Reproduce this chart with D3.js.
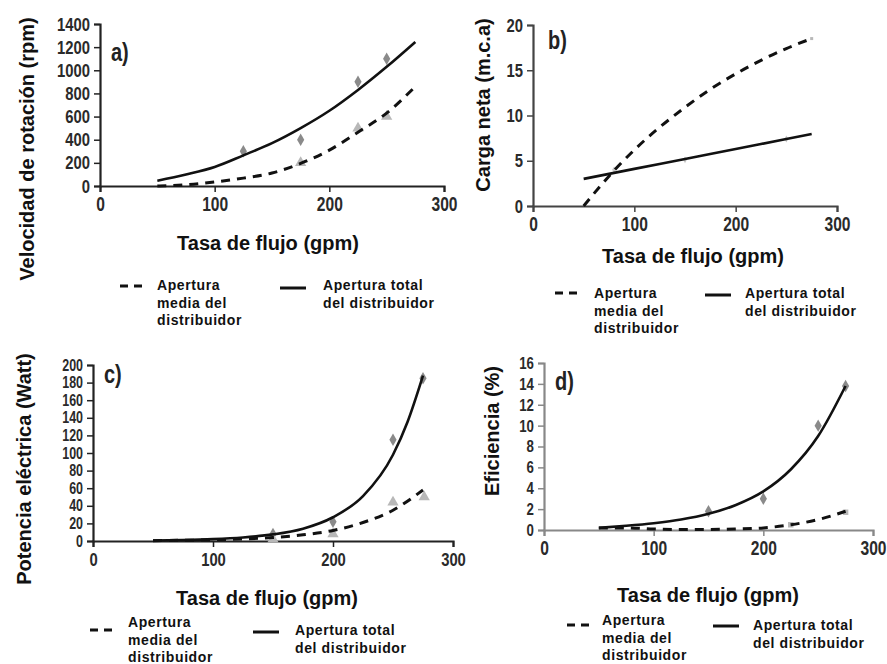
<!DOCTYPE html>
<html>
<head>
<meta charset="UTF-8">
<script src="https://cdn.jsdelivr.net/npm/d3@7"></script>
<style>
  body { margin: 0; background: #fff; }
  .tick text { font-family: "Liberation Sans", Arial, sans-serif; font-weight: bold; fill: #2a2a2a; }
  .ttl { font-family: "Liberation Sans", Arial, sans-serif; font-weight: bold; fill: #111; }
  .leg { font-family: "Liberation Sans", Arial, sans-serif; font-weight: bold; font-size: 14px; letter-spacing: 0.6px; fill: #111; }
  .plab { font-family: "Liberation Sans", Arial, sans-serif; font-weight: bold; font-size: 25px; fill: #222; }
</style>
</head>
<body>
<svg id="chart" width="887" height="664"></svg>
<script>
// ---- data (flow in gpm) ----
const flowTicks = [0, 100, 200, 300];

// a) rotation speed (rpm)
const rpmTicks = [0, 200, 400, 600, 800, 1000, 1200, 1400];
const rpmTotalPts = [[125, 300], [175, 400], [225, 900], [250, 1100]];
const rpmMediaPts = [[175, 200], [225, 500], [250, 600]];
const rpmTotalFit = [[50, 46], [75, 100], [100, 165], [125, 265], [150, 370], [175, 500], [200, 650], [225, 830], [250, 1030], [275, 1245]];
const rpmMediaFit = [[50, 0], [75, 10], [100, 35], [125, 68], [150, 112], [175, 195], [200, 310], [225, 465], [250, 630], [275, 860]];

// b) net head (m.c.a)
const headTicks = [0, 5, 10, 15, 20];
const headTotalPts = [[80, 4], [150, 5.1], [250, 7.4]];
const headMediaPts = [[275, 18.5]];
const headTotalFit = [[50, 3.0], [100, 4.1], [150, 5.2], [200, 6.3], [250, 7.4], [275, 7.95]];
const headMediaFit = [[50, 0], [75, 3.3], [100, 6.2], [125, 8.7], [150, 10.9], [175, 12.9], [200, 14.6], [225, 16.1], [250, 17.4], [275, 18.5]];

// c) electric power (W)
const powTicks = [0, 20, 40, 60, 80, 100, 120, 140, 160, 180, 200];
const powTotalPts = [[150, 8], [200, 22], [250, 115], [275, 185]];
const powMediaPts = [[150, 2], [200, 8], [250, 44], [276, 50]];
const powTotalFit = [[50, 0.6], [75, 1.1], [100, 2.1], [125, 4], [150, 7.5], [175, 14], [200, 27], [225, 51], [250, 98], [262, 135], [275, 188]];
const powMediaFit = [[50, 0.4], [75, 0.8], [100, 1.3], [125, 2.3], [150, 4], [175, 7], [200, 12], [225, 21], [250, 35], [275, 58]];

// d) efficiency (%)
const effTicks = [0, 2, 4, 6, 8, 10, 12, 14, 16];
const effTotalPts = [[150, 1.8], [200, 3], [250, 10], [275, 13.8]];
const effMediaPts = [[225, 0.5], [275, 1.7]];
const effTotalFit = [[50, 0.2], [75, 0.4], [100, 0.65], [125, 1.0], [150, 1.55], [175, 2.4], [200, 3.7], [225, 5.8], [250, 9.0], [275, 13.8]];
const effMediaFit = [[50, 0.2], [75, 0.2], [100, 0.1], [125, 0.05], [150, 0.05], [175, 0.1], [200, 0.2], [225, 0.5], [250, 1.0], [275, 1.8]];

const legMedia = ["Apertura", "media del", "distribuidor"];
const legTotal = ["Apertura total", "del distribuidor"];
const xTitle = "Tasa de flujo (gpm)";

const panels = [
  { tag: "a)", yTitle: "Velocidad de rotación (rpm)", yTicks: rpmTicks, yMax: 1400,
    tot: rpmTotalFit, med: rpmMediaFit, totPts: rpmTotalPts, medPts: rpmMediaPts, medSym: d3.symbolTriangle, mk: 1,
    box: [100, 444, 186, 24], axisCol: "#222", tagXY: [111, 61], yFs: 19, xFs: 20,
    xt: [268, 250], yt: [27, 149], leg: [120, 286, 157, 290, 280, 288, 323, 290] },
  { tag: "b)", yTitle: "Carga neta (m.c.a)", yTicks: headTicks, yMax: 20,
    tot: headTotalFit, med: headMediaFit, totPts: headTotalPts, medPts: headMediaPts, medSym: d3.symbolSquare, mk: 0.3,
    box: [533, 837, 206, 25], axisCol: "#444", tagXY: [548, 49], yFs: 19, xFs: 20,
    xt: [693, 263], yt: [483, 105], leg: [555, 293, 594, 298, 705, 295, 745, 298] },
  { tag: "c)", yTitle: "Potencia eléctrica (Watt)", yTicks: powTicks, yMax: 200,
    tot: powTotalFit, med: powMediaFit, totPts: powTotalPts, medPts: powMediaPts, medSym: d3.symbolTriangle, mk: 1,
    box: [93, 453, 541, 365], axisCol: "#222", tagXY: [104, 383], yFs: 16, xFs: 19,
    xt: [267, 605], yt: [24, 469], leg: [90, 630, 128, 627, 253, 632, 295, 635] },
  { tag: "d)", yTitle: "Eficiencia (%)", yTicks: effTicks, yMax: 16,
    tot: effTotalFit, med: effMediaFit, totPts: effTotalPts, medPts: effMediaPts, medSym: d3.symbolSquare, mk: 1,
    box: [544, 873, 530, 363], axisCol: "#888", tagXY: [555, 390], yFs: 17, xFs: 20,
    xt: [708, 602], yt: [492, 431], leg: [567, 625, 602, 625, 713, 626, 753, 630] }
];

const svg = d3.select("#chart");

// squeeze tick labels sideways, like the narrow face in the original
function narrow(sel, fs) {
  sel.selectAll(".tick text").each(function () {
    const t = d3.select(this);
    const tx = +t.attr("x") || 0, ty = +t.attr("y") || 0;
    t.attr("x", 0).attr("y", 0).attr("font-size", fs)
      .attr("transform", `translate(${tx},${ty}) scale(0.78,1)`);
  });
}

panels.forEach(p => {
  const [xl, xr, yb, yt] = p.box;
  const x = d3.scaleLinear().domain([0, 300]).range([xl, xr]);
  const y = d3.scaleLinear().domain([0, p.yMax]).range([yb, yt]);
  const g = svg.append("g");

  // axes
  const xa = g.append("g").attr("transform", `translate(0,${yb})`)
    .call(d3.axisBottom(x).tickValues(flowTicks).tickFormat(d3.format("d")).tickSize(6).tickPadding(5));
  const ya = g.append("g").attr("transform", `translate(${xl},0)`)
    .call(d3.axisLeft(y).tickValues(p.yTicks).tickFormat(d3.format("d")).tickSize(6).tickPadding(4));
  narrow(xa, p.xFs);
  narrow(ya, p.yFs);
  [xa, ya].forEach(a => {
    a.select(".domain").attr("stroke", p.axisCol).attr("stroke-width", 2.2);
    a.selectAll(".tick line").attr("stroke", p.axisCol).attr("stroke-width", 1.5);
  });

  // markers
  g.selectAll(".mt").data(p.totPts).join("path")
    .attr("d", d3.symbol().type(d3.symbolDiamond).size(45 * p.mk)())
    .attr("transform", d => `translate(${x(d[0])},${y(d[1])})`)
    .attr("fill", p.mk < 1 ? "#c8c8c8" : "#8a8a8a");
  g.selectAll(".mm").data(p.medPts).join("path")
    .attr("d", d3.symbol().type(p.medSym).size((p.medSym === d3.symbolSquare ? 30 : 55) * p.mk)())
    .attr("transform", d => `translate(${x(d[0])},${y(d[1])})`)
    .attr("fill", "#b8b8b8");

  // trend lines
  const line = d3.line().x(d => x(d[0])).y(d => y(d[1])).curve(d3.curveMonotoneX);
  g.append("path").datum(p.med).attr("d", line)
    .attr("fill", "none").attr("stroke", "#111").attr("stroke-width", 3)
    .attr("stroke-dasharray", "9,7");
  g.append("path").datum(p.tot).attr("d", line)
    .attr("fill", "none").attr("stroke", "#111").attr("stroke-width", 2.6);

  // titles
  g.append("text").attr("class", "plab")
    .attr("transform", `translate(${p.tagXY[0]},${p.tagXY[1]}) scale(0.8,1)`).text(p.tag);
  g.append("text").attr("class", "ttl").attr("font-size", 20).attr("text-anchor", "middle")
    .attr("x", p.xt[0]).attr("y", p.xt[1]).text(xTitle);
  g.append("text").attr("class", "ttl").attr("font-size", 20).attr("text-anchor", "middle")
    .attr("transform", `translate(${p.yt[0] + 7},${p.yt[1]}) rotate(-90)`).text(p.yTitle);

  // legend
  const L = p.leg;
  g.append("line").attr("x1", L[0]).attr("x2", L[0] + 24).attr("y1", L[1]).attr("y2", L[1])
    .attr("stroke", "#111").attr("stroke-width", 3).attr("stroke-dasharray", "8,6");
  legMedia.forEach((t, i) => g.append("text").attr("class", "leg")
    .attr("x", L[2]).attr("y", L[3] + i * 17.5).text(t));
  g.append("line").attr("x1", L[4]).attr("x2", L[4] + 26).attr("y1", L[5]).attr("y2", L[5])
    .attr("stroke", "#111").attr("stroke-width", 3);
  legTotal.forEach((t, i) => g.append("text").attr("class", "leg")
    .attr("x", L[6]).attr("y", L[7] + i * 17.5).text(t));
});
</script>
</body>
</html>
